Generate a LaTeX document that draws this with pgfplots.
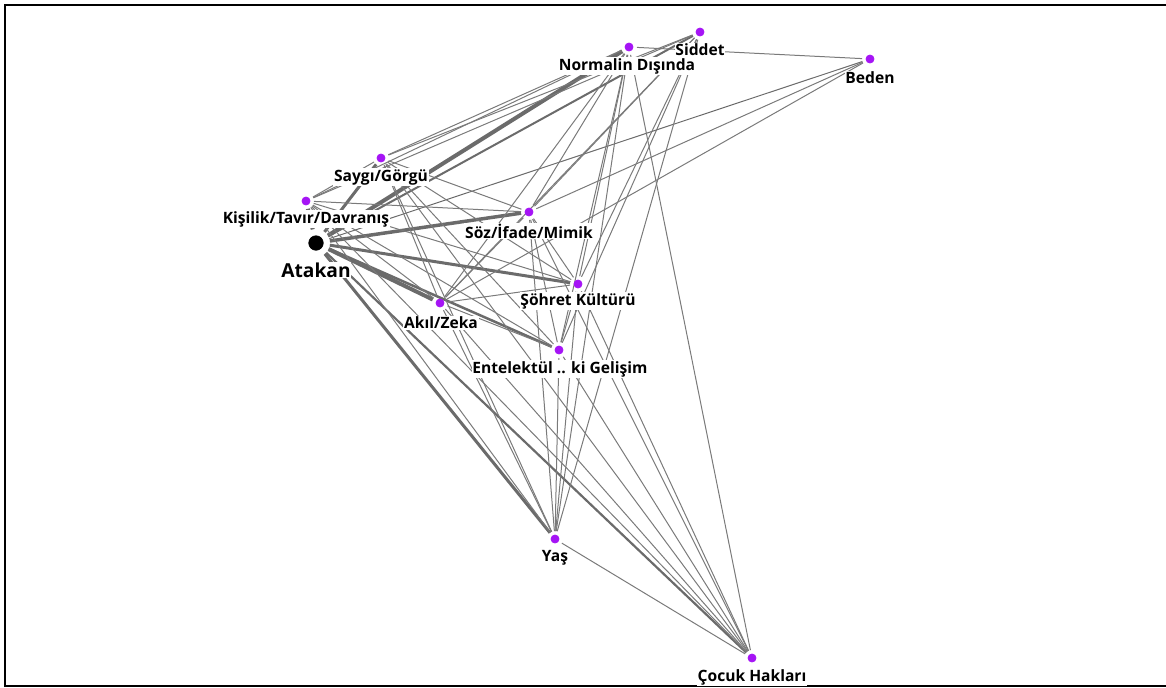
\documentclass[border=0pt]{standalone}
\usepackage{fontspec}
\setmainfont{Open Sans}
\usepackage{pgfplots}
\pgfplotsset{compat=1.18}
\definecolor{nodepurple}{RGB}{165,20,245}
\pgfplotsset{
  edge/.style={no markers, color=black!52, line width=0.5pt, shorten <=4pt, shorten >=4pt},
  hub/.style={no markers, color=black!58, shorten <=7pt, shorten >=4pt},
}
\tikzset{lbl/.style={fill=white, inner sep=0.4pt, font=\bfseries\fontsize{7.8}{8}\selectfont}}

\begin{document}
\begin{tikzpicture}
\useasboundingbox (0,0) rectangle (583pt,343.5pt);
\begin{axis}[
    scale only axis,
    width=583pt, height=343.5pt,
    xmin=0, xmax=1166, ymin=0, ymax=687,
    y dir=reverse,
    hide axis,
    clip=false,
  ]
  % frame
  \draw[black, line width=1.25pt] (axis cs:1170,5) -- (axis cs:5,5) -- (axis cs:5,686) -- (axis cs:1170,686);

  % edges from Atakan
  \addplot[hub, line width=2pt]   coordinates {(316,243) (306,201)};
  \addplot[hub, line width=1.5pt] coordinates {(316,243) (381,158)};
  \addplot[hub, line width=2pt]   coordinates {(316,243) (629,47)};
  \addplot[hub, line width=1pt]   coordinates {(316,243) (700,32)};
  \addplot[hub, line width=1.75pt] coordinates {(316,243) (529,212)};
  \addplot[hub, line width=1.5pt] coordinates {(316,243) (578,284)};
  \addplot[hub, line width=2pt]   coordinates {(316,243) (440,303)};
  \addplot[hub, line width=1.25pt] coordinates {(316,243) (559,350)};
  \addplot[hub, line width=1.5pt] coordinates {(316,243) (555,539)};
  \addplot[hub, line width=1.1pt] coordinates {(316,243) (752,658)};
  \addplot[hub, line width=0.5pt] coordinates {(316,243) (870,59)};

  % Kisilik
  \addplot[edge] coordinates {(306,201) (381,158)};
  \addplot[edge] coordinates {(306,201) (629,47)};
  \addplot[edge] coordinates {(306,201) (700,32)};
  \addplot[edge] coordinates {(306,201) (529,212)};
  \addplot[edge] coordinates {(306,201) (578,284)};
  \addplot[edge] coordinates {(306,201) (440,303)};
  \addplot[edge] coordinates {(306,201) (559,350)};
  \addplot[edge] coordinates {(306,201) (555,539)};
  \addplot[edge] coordinates {(306,201) (752,658)};
  % Saygi
  \addplot[edge] coordinates {(381,158) (629,47)};
  \addplot[edge] coordinates {(381,158) (700,32)};
  \addplot[edge] coordinates {(381,158) (529,212)};
  \addplot[edge] coordinates {(381,158) (578,284)};
  \addplot[edge] coordinates {(381,158) (440,303)};
  \addplot[edge] coordinates {(381,158) (559,350)};
  \addplot[edge] coordinates {(381,158) (555,539)};
  \addplot[edge] coordinates {(381,158) (752,658)};
  % Normalin Disinda
  \addplot[edge] coordinates {(629,47) (870,59)};
  \addplot[edge] coordinates {(629,47) (529,212)};
  \addplot[edge] coordinates {(629,47) (578,284)};
  \addplot[edge] coordinates {(629,47) (440,303)};
  \addplot[edge] coordinates {(629,47) (559,350)};
  \addplot[edge] coordinates {(629,47) (555,539)};
  \addplot[edge] coordinates {(629,47) (752,658)};
  % Siddet
  \addplot[edge] coordinates {(700,32) (529,212)};
  \addplot[edge] coordinates {(700,32) (578,284)};
  \addplot[edge] coordinates {(700,32) (440,303)};
  \addplot[edge] coordinates {(700,32) (559,350)};
  \addplot[edge] coordinates {(700,32) (555,539)};
  % Soz
  \addplot[edge] coordinates {(529,212) (870,59)};
  \addplot[edge] coordinates {(529,212) (578,284)};
  \addplot[edge] coordinates {(529,212) (440,303)};
  \addplot[edge] coordinates {(529,212) (559,350)};
  \addplot[edge] coordinates {(529,212) (555,539)};
  \addplot[edge] coordinates {(529,212) (752,658)};
  % Sohret
  \addplot[edge] coordinates {(578,284) (440,303)};
  \addplot[edge] coordinates {(578,284) (559,350)};
  \addplot[edge] coordinates {(578,284) (555,539)};
  \addplot[edge] coordinates {(578,284) (752,658)};
  % Akil
  \addplot[edge] coordinates {(440,303) (870,59)};
  \addplot[edge] coordinates {(440,303) (559,350)};
  \addplot[edge] coordinates {(440,303) (555,539)};
  \addplot[edge] coordinates {(440,303) (752,658)};
  % Entelektuel, Yas
  \addplot[edge] coordinates {(559,350) (555,539)};
  \addplot[edge] coordinates {(559,350) (752,658)};
  \addplot[edge] coordinates {(555,539) (752,658)};

  % nodes
  \addplot[only marks, mark=*, mark size=2pt, color=nodepurple] coordinates {
    (306,201) (381,158) (629,47) (700,32) (870,59) (529,212)
    (578,284) (440,303) (559,350) (555,539) (752,658)
  };
  \addplot[only marks, mark=*, mark size=3.6pt, color=black] coordinates {(316,243)};

  % labels
  \node[lbl, font=\bfseries\fontsize{9.6}{10}\selectfont] at (axis cs:316,270) {Atakan};
  \node[lbl] at (axis cs:306,219) {Kişilik/Tavır/Davranış};
  \node[lbl] at (axis cs:381,177) {Saygı/Görgü};
  \node[lbl] at (axis cs:627,66) {Normalin Dışında};
  \node[lbl] at (axis cs:700,50) {Siddet};
  \node[lbl] at (axis cs:870,78) {Beden};
  \node[lbl] at (axis cs:529,231) {Söz/İfade/Mimik};
  \node[lbl] at (axis cs:578,301) {Şöhret Kültürü};
  \node[lbl] at (axis cs:441,323) {Akıl/Zeka};
  \node[lbl] at (axis cs:560,369) {Entelektül .. ki Gelişim};
  \node[lbl] at (axis cs:555,558) {Yaş};
  \node[lbl] at (axis cs:752,677) {Çocuk Hakları};
\end{axis}
\end{tikzpicture}
\end{document}
